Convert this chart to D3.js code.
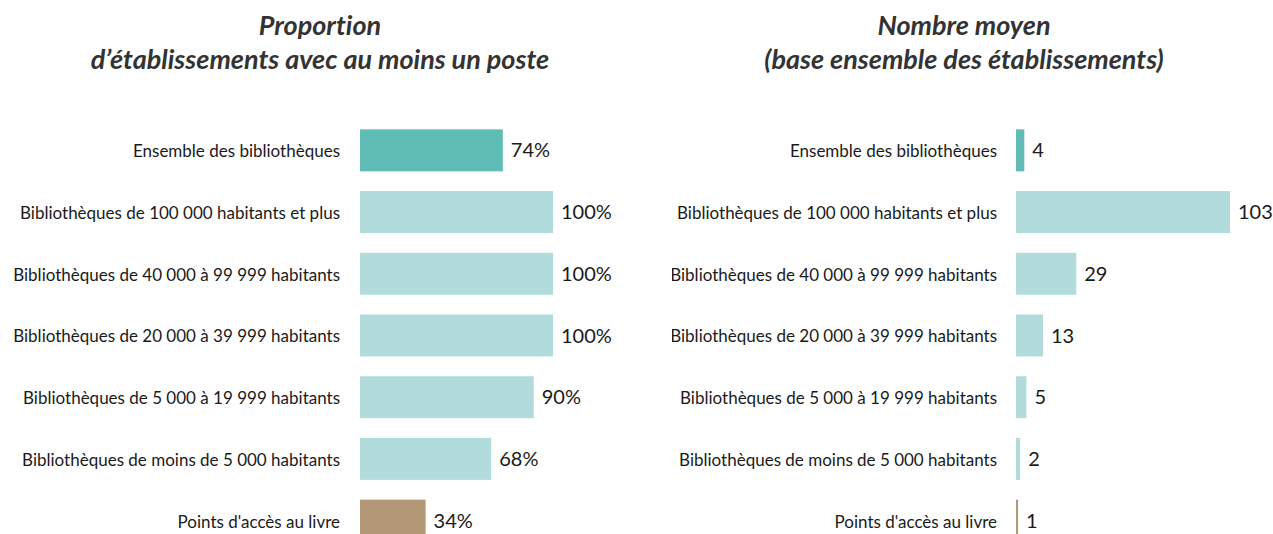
<!DOCTYPE html>
<html>
<head>
<meta charset="utf-8">
<script src="https://cdn.jsdelivr.net/npm/d3@7"></script>
<style>
  body { margin: 0; background: #fff; }
  svg { display: block; }
  text { font-variant-ligatures: none; }
</style>
</head>
<body>
<svg id="chart" width="1273" height="534"></svg>
<script>
// categories (top to bottom)
var categories = [
    'Ensemble des bibliothèques',
    'Bibliothèques de 100 000 habitants et plus',
    'Bibliothèques de 40 000 à 99 999 habitants',
    'Bibliothèques de 20 000 à 39 999 habitants',
    'Bibliothèques de 5 000 à 19 999 habitants',
    'Bibliothèques de moins de 5 000 habitants',
    "Points d'accès au livre"
];
// left panel: share of establishments with at least one post (%)
var proportionValues = [74, 100, 100, 100, 90, 68, 34];
// right panel: mean number (all establishments)
var meanValues = [4, 103, 29, 13, 5, 2, 1];
var colorGroups = ['total', 'bib', 'bib', 'bib', 'bib', 'bib', 'pal'];

var panelTitles = [
    ['Proportion', 'd\u2019établissements avec au moins un poste'],
    ['Nombre moyen', '(base ensemble des établissements)']
];

var colors = { total: '#5fbdb5', bib: '#b2dcdb', pal: '#b39878' };

var svg = d3.select('#chart');

function drawPanel(cfg) {
    var g = svg.append('g');

    // clip so long labels get cut like in the original
    var clipId = 'clip-' + cfg.id;
    svg.append('clipPath').attr('id', clipId)
        .append('rect')
        .attr('x', cfg.clipLeft).attr('y', 0)
        .attr('width', 1273 - cfg.clipLeft).attr('height', 534);
    g.attr('clip-path', 'url(#' + clipId + ')');

    var x = d3.scaleLinear()
        .domain([0, cfg.max])
        .range([cfg.x0, cfg.x1]);

    var y = d3.scaleBand()
        .domain(categories)
        .range([119.5, 551.5])
        .paddingInner(0.32)
        .paddingOuter(0.16);

    g.selectAll('rect.bar')
        .data(cfg.values)
        .enter().append('rect')
        .attr('class', 'bar')
        .attr('x', x(0))
        .attr('y', function(d, i){ return y(categories[i]); })
        .attr('width', function(d){ return x(d) - x(0); })
        .attr('height', y.bandwidth())
        .attr('fill', function(d, i){ return colors[colorGroups[i]]; });

    // category labels
    g.selectAll('text.cat')
        .data(categories)
        .enter().append('text')
        .attr('class', 'cat')
        .attr('x', cfg.labelX)
        .attr('y', function(d){ return y(d) + y.bandwidth() / 2 + 1; })
        .attr('dy', '0.35em')
        .attr('text-anchor', 'end')
        .style('font-family', 'Lato, "Open Sans", sans-serif')
        .style('font-size', '17px')
        .style('fill', '#1a1a1a')
        .text(function(d){ return d; });

    // value labels
    g.selectAll('text.val')
        .data(cfg.values)
        .enter().append('text')
        .attr('class', 'val')
        .attr('x', function(d){ return x(d) + 8; })
        .attr('y', function(d, i){ return y(categories[i]) + y.bandwidth() / 2; })
        .attr('dy', '0.35em')
        .style('font-family', 'Lato, "Open Sans", sans-serif')
        .style('font-size', '20px')
        .style('fill', '#1a1a1a')
        .text(function(d){ return d + cfg.suffix; });

    // title
    var t = svg.append('text')
        .attr('x', cfg.titleX)
        .attr('text-anchor', 'middle')
        .style('font-family', 'Lato, sans-serif')
        .style('font-size', '27px')
        .style('font-weight', 'bold')
        .style('font-style', 'italic')
        .style('fill', '#333');
    cfg.title.forEach(function(line, i){
        t.append('tspan')
            .attr('x', cfg.titleX)
            .attr('y', 35 + i * 34)
            .text(line);
    });
}

drawPanel({
    id: 'left', values: proportionValues, max: 100, suffix: '%',
    x0: 360, x1: 553, labelX: 340, clipLeft: 0,
    title: panelTitles[0], titleX: 320
});

drawPanel({
    id: 'right', values: meanValues, max: 103, suffix: '',
    x0: 1016, x1: 1230, labelX: 997, clipLeft: 672,
    title: panelTitles[1], titleX: 964
});
</script>
</body>
</html>
